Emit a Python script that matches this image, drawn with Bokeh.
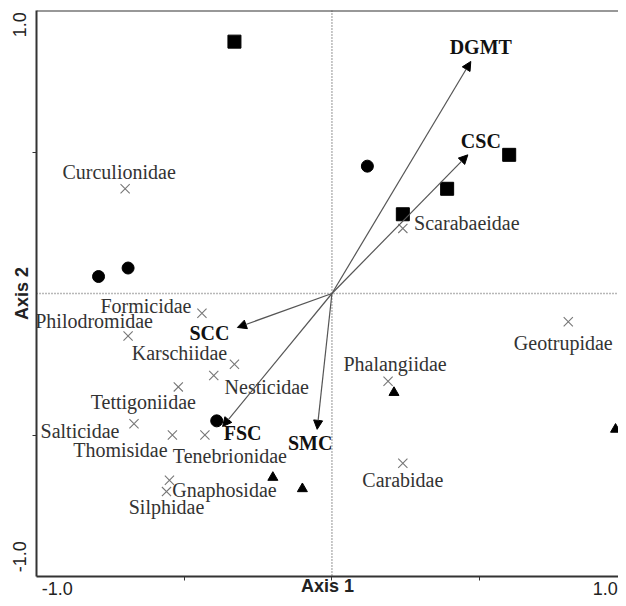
from bokeh.plotting import figure
from bokeh.models import (ColumnDataSource, Range1d, Span, Arrow, NormalHead, FixedTicker)
from bokeh.core.properties import value
from bokeh.embed import file_html
from bokeh.resources import INLINE

# ---------------- data ----------------
species = ["Curculionidae", "Scarabaeidae", "Formicidae", "Philodromidae", "Karschiidae",
           "Nesticidae", "Tettigoniidae", "Salticidae", "Thomisidae", "Tenebrionidae",
           "Gnaphosidae", "Silphidae", "Phalangiidae", "Carabidae", "Geotrupidae"]
species_x = [-0.70, 0.24, -0.44, -0.69, -0.33, -0.40, -0.52, -0.67, -0.54, -0.43,
             -0.55, -0.56, 0.19, 0.24, 0.80]
species_y = [0.37, 0.23, -0.07, -0.15, -0.25, -0.29, -0.33, -0.46, -0.50, -0.50,
             -0.66, -0.70, -0.31, -0.60, -0.10]

square_x = [-0.33, 0.60, 0.39, 0.24]
square_y = [0.89, 0.49, 0.37, 0.28]
circle_x = [-0.79, -0.69, 0.12, -0.39]
circle_y = [0.06, 0.09, 0.45, -0.45]
triangle_x = [0.21, 0.96, -0.20, -0.10]
triangle_y = [-0.35, -0.48, -0.65, -0.69]

env = ["DGMT", "CSC", "SCC", "FSC", "SMC"]
env_x = [0.47, 0.46, -0.32, -0.37, -0.05]
env_y = [0.82, 0.49, -0.12, -0.47, -0.48]

x_title = "Axis 1"
y_title = "Axis 2"
end_labels = ["-1.0", "1.0"]
minor_x = [-0.5, 0.0, 0.5]
minor_y = [-0.5, 0.5]

# ---------------- layout (label offsets in screen px, y down) ----------------
species_dx = [-6, 64, -56, -34, -55, 53, -35, -54, -52, 25, 55, 0, 7, 0, -5]
species_dy = [-17, -5, -7, -15, -11, 11, 15, 7, 15, 21, 10, 15, -17, 17, 21]
env_dx = [10, 13, -28, 20, -7]
env_dy = [-14, -14, 6, 6, 14]
# where the end labels sit along each axis (inset from the corners, as in the figure)
x_end_pos = [-0.93, 0.925]
y_end_pos = [-0.93, 0.95]

SERIF = "Liberation Serif"
SANS = "Liberation Sans"

# the figure is cropped on the right just before x = 1.0
p = figure(width=618, height=598, x_range=Range1d(-1, 0.97), y_range=Range1d(-1, 1),
           output_backend="svg", toolbar_location=None,
           min_border_left=36, min_border_right=0, min_border_top=10, min_border_bottom=22)
p.outline_line_color = None
p.xgrid.grid_line_color = None
p.ygrid.grid_line_color = None
p.background_fill_color = "white"

p.xaxis.ticker = FixedTicker(ticks=x_end_pos, minor_ticks=minor_x)
p.xaxis.major_label_overrides = dict(zip(x_end_pos, end_labels))
p.yaxis.ticker = FixedTicker(ticks=y_end_pos, minor_ticks=minor_y)
p.yaxis.major_label_overrides = dict(zip(y_end_pos, end_labels))
p.xaxis.axis_label = x_title
p.yaxis.axis_label = y_title
p.yaxis.major_label_orientation = "vertical"

for ax in (p.xaxis, p.yaxis):
    ax.axis_line_width = 2
    ax.axis_line_color = "#333333"
    ax.major_tick_line_color = None
    ax.major_tick_in = 0
    ax.minor_tick_line_color = "#333333"
    ax.minor_tick_out = 4
    ax.minor_tick_in = 0
    ax.major_label_text_font = SANS
    ax.major_label_text_font_size = "18px"
    ax.major_label_text_color = "#222222"
    ax.axis_label_text_font = SANS
    ax.axis_label_text_font_size = "18px"
    ax.axis_label_text_font_style = "bold"
    ax.axis_label_text_color = "#222222"

p.xaxis.major_tick_out = 0
p.xaxis.major_label_standoff = 1
p.xaxis.axis_label_standoff = -22
p.yaxis.major_tick_out = 3
p.yaxis.major_label_standoff = 6
p.yaxis.axis_label_standoff = -21

# top border
p.add_layout(Span(location=1, dimension="width", line_color="#333333", line_width=2))
# dotted zero lines
p.add_layout(Span(location=0, dimension="height", line_color="#707070", line_dash="1 2",
                  line_width=1.5, level="underlay"))
p.add_layout(Span(location=0, dimension="width", line_color="#707070", line_dash="1 2",
                  line_width=1.5, level="underlay"))

# environmental arrows
env_src = ColumnDataSource(dict(x0=[0] * len(env), y0=[0] * len(env), x=env_x, y=env_y,
                                name=env, dx=env_dx, dy=env_dy))
p.add_layout(Arrow(end=NormalHead(size=9, fill_color="black", line_color="black", line_width=1),
                   x_start="x0", y_start="y0", x_end="x", y_end="y", source=env_src,
                   line_color="#555555", line_width=1.2))
p.text(x="x", y="y", text="name", x_offset="dx", y_offset="dy", source=env_src,
       text_font=value(SERIF), text_font_style="bold", text_font_size="20px",
       text_align="center", text_baseline="middle", text_color="#111111")

# species
sp_src = ColumnDataSource(dict(x=species_x, y=species_y, name=species,
                               dx=species_dx, dy=species_dy))
p.scatter(x="x", y="y", source=sp_src, marker="x", size=13, line_color="#777777", line_width=1.1)
p.text(x="x", y="y", text="name", x_offset="dx", y_offset="dy", source=sp_src,
       text_font=value(SERIF), text_font_size="20px",
       text_align="center", text_baseline="middle", text_color="#333333")

# sites
p.scatter(square_x, square_y, marker="square", size=13, color="black")
p.scatter(circle_x, circle_y, marker="circle", size=12, color="black")
p.scatter(triangle_x, triangle_y, marker="triangle", size=10, color="black")

open("out.html", "w").write(file_html(p, INLINE))
